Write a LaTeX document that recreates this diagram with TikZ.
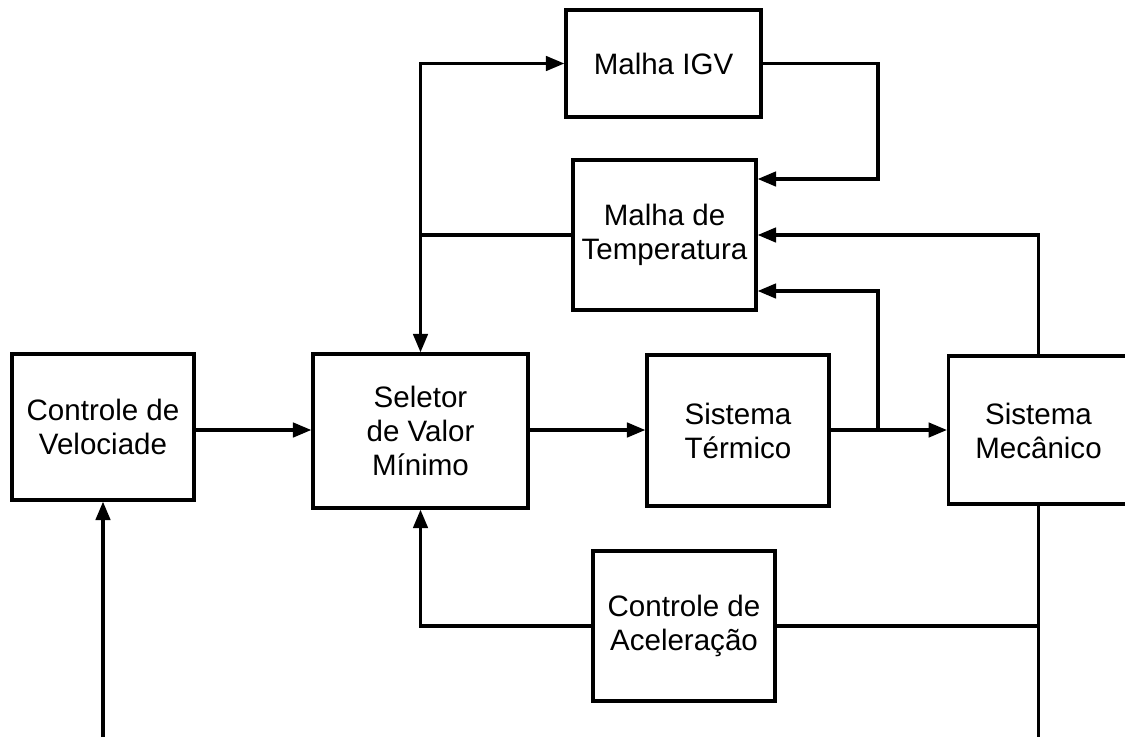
\documentclass[tikz,border=0pt]{standalone}
\usepackage{fontspec}
\setmainfont{Liberation Sans}
\usepackage{tikz}
\usetikzlibrary{arrows.meta,positioning}

\begin{document}
\begin{tikzpicture}[x=0.025cm, y=-0.025cm, line width=2.3pt,
    bloco/.style={draw, rectangle, inner sep=0pt, align=center, font=\fontsize{21}{24.2}\selectfont},
    seta/.style={-{Triangle[length=0.46cm, width=0.36cm]}}]
    \clip (0,0) rectangle (1125,737);

    \node[bloco, minimum width=182*0.025cm, minimum height=146*0.025cm] (vel) at (103,427) {Controle de\\Velociade};
    \node[bloco, minimum width=215*0.025cm, minimum height=154*0.025cm] (sel) at (420.5,431) {Seletor\\de Valor\\Mínimo};
    \node[bloco, minimum width=182*0.025cm, minimum height=151*0.025cm] (ter) at (738,430.5) {Sistema\\Térmico};
    \node[bloco, minimum width=200*0.025cm, minimum height=148*0.025cm, anchor=west] (mec) at (947,430) {};
    \node[font=\fontsize{21}{24.2}\selectfont, align=center] (mectxt) at (1038.5,431) {Sistema\\Mecânico};
    \node[bloco, minimum width=195*0.025cm, minimum height=107*0.025cm] (igv) at (663.5,63.5) {Malha IGV};
    \node[bloco, minimum width=183*0.025cm, minimum height=150*0.025cm] (temp) at (664.5,235) {Malha de\\Temperatura};
    \node[bloco, minimum width=182*0.025cm, minimum height=150*0.025cm] (acel) at (684,626) {Controle de\\Aceleração};

    \coordinate (ent) at (103,737);
    \coordinate (sai) at (1038.5,737);
    \coordinate (j1) at (878,430);

    % caminho principal
    \draw[seta] (ent) -- (vel.south);
    \draw[seta] (vel.east |- 0,430) -- (sel.west |- 0,430);
    \draw[seta] (sel.east |- 0,430) -- (ter.west |- 0,430);
    \draw[seta] (ter.east |- 0,430) -- (mec.west |- 0,430);

    % realimentacoes
    \draw[seta] (j1) |- ([yshift=-56*0.025cm]temp.east);
    \draw[seta] (igv.east) -| (878,179) -- ([yshift=56*0.025cm]temp.east);
    \draw[seta] (mec.north -| sai) |- (temp.east);
    \draw[seta] (temp.west) -| (sel.north);
    \draw[seta] (temp.west -| sel.north) |- (igv.west);
    \draw[seta] (acel.west) -| (sel.south);
    \draw (acel.east) -- (acel.east -| sai);
    \draw (mec.south -| sai) -- (sai);
\end{tikzpicture}
\end{document}
